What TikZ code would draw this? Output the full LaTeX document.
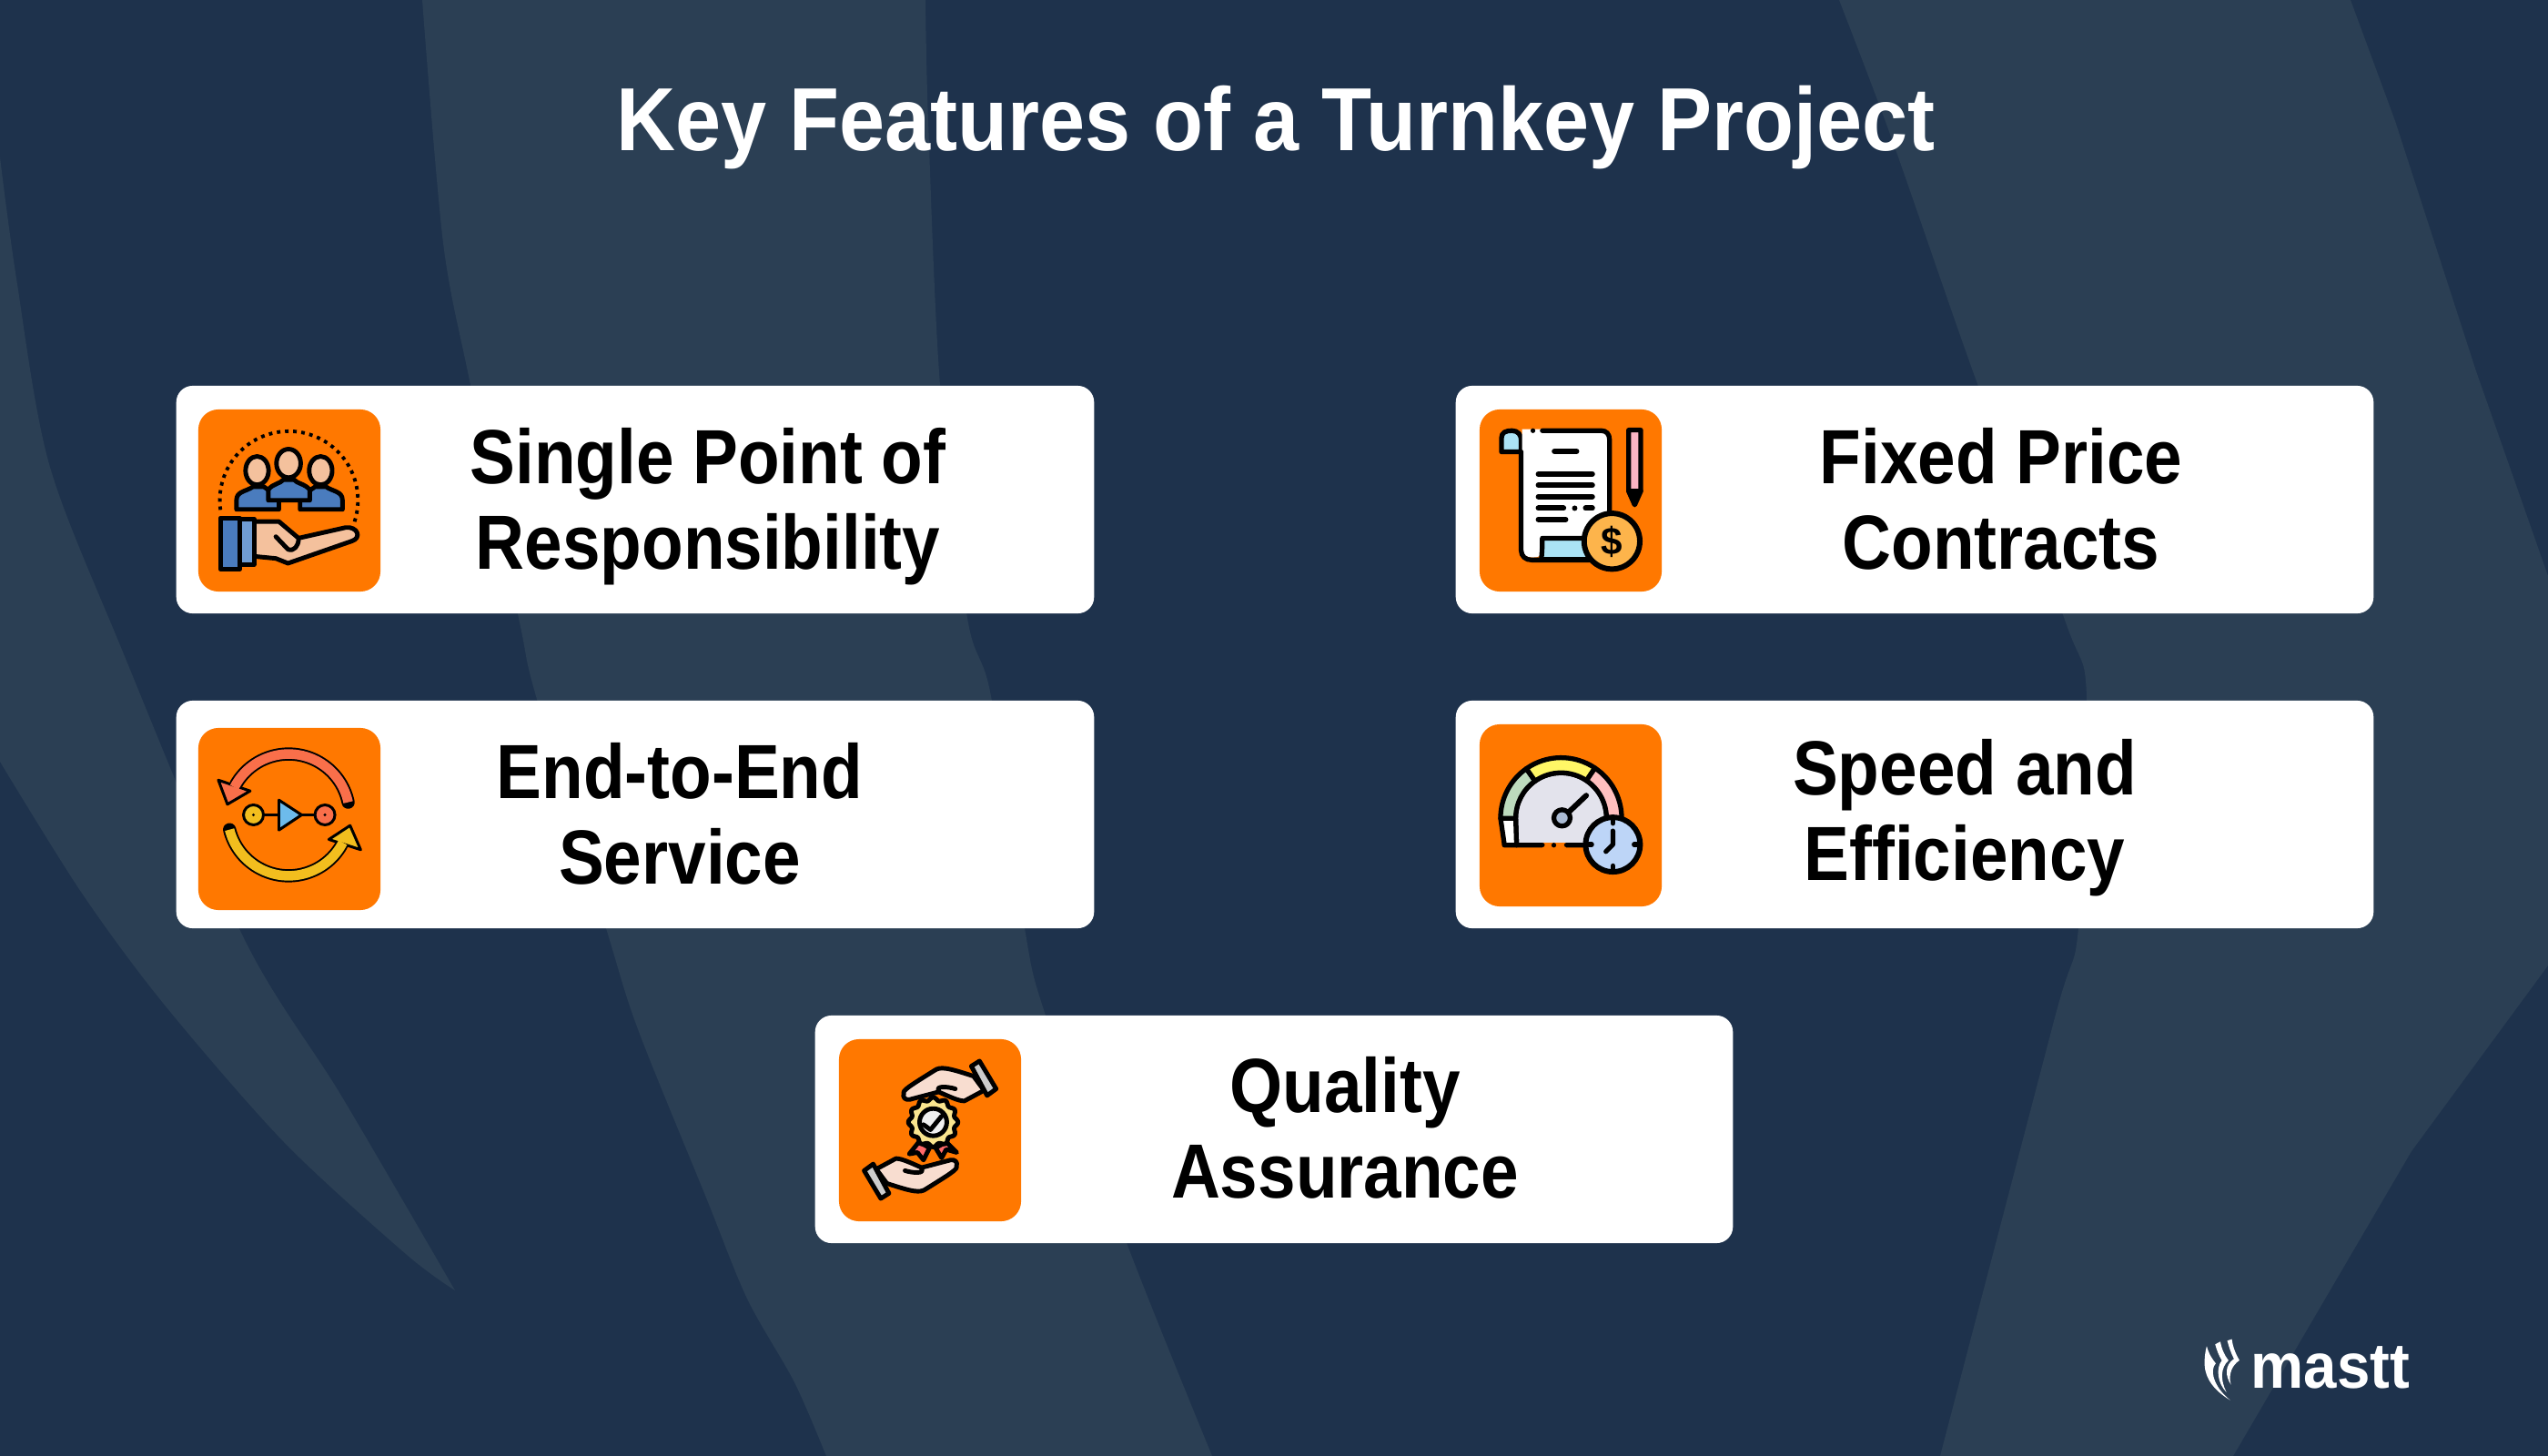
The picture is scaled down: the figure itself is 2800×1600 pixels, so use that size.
\documentclass[tikz,border=0pt]{standalone}
\usepackage{fontspec}
\setmainfont{Liberation Sans}
\newfontfamily\titlefont[FakeStretch=0.914]{Liberation Sans}
\newfontfamily\cardfont[FakeStretch=0.885]{Liberation Sans}
\newfontfamily\logofont[FakeStretch=0.93]{Liberation Sans}
\usepackage{tikz}
\definecolor{navy}{HTML}{1E324C}
\definecolor{band}{HTML}{2B3F54}
\definecolor{iconbg}{HTML}{FF7800}
\definecolor{skin}{HTML}{F4C19D}
\definecolor{shirt}{HTML}{4A7CBE}
\definecolor{shirtlight}{HTML}{6F9CD3}
\definecolor{sky}{HTML}{ABE3F5}
\definecolor{coin}{HTML}{FDB44B}
\definecolor{pinkish}{HTML}{FBB4C4}
\definecolor{coral}{HTML}{F96F4A}
\definecolor{amber}{HTML}{F2BE1E}
\definecolor{playblue}{HTML}{6DBBEC}
\definecolor{dial}{HTML}{E3E3EC}
\definecolor{clockface}{HTML}{BDD5F7}
\definecolor{handskin}{HTML}{F8DDD0}
\definecolor{rosette}{HTML}{F9E58F}
\tikzstyle{card} = [rectangle, rounded corners=0.18cm, minimum width=10.08cm, minimum height=2.5cm, fill=white, inner sep=0pt]
\tikzstyle{iconbox} = [rectangle, rounded corners=0.22cm, minimum size=2cm, fill=iconbg, inner sep=0pt]
\tikzstyle{cardtext} = [anchor=base, align=center, text=black, font=\cardfont\fontsize{24}{26.6}\selectfont\bfseries, inner sep=0pt]
\tikzstyle{zoomed} = [x=0.003333cm, y=-0.003333cm]
\tikzstyle{ln} = [draw=black, line width=1.4pt, line join=round, line cap=round]
\newcommand{\carehand}{%
  \draw[ln,fill=handskin] (280,215) .. controls (275,205) and (300,190) .. (380,140) .. controls (400,125) and (425,130) .. (510,158) -- (545,205) -- (480,240) .. controls (460,240) and (430,225) .. (395,210) -- (300,235) .. controls (285,238) and (275,228) .. (280,215) -- cycle;
  \draw[ln] (395,205) .. controls (385,190) and (425,192) .. (450,200);
  \draw[ln,fill=gray!40] (503,125) -- (530,108) -- (585,200) -- (555,222) -- cycle;
}
\begin{document}
\begin{tikzpicture}[x=0.01cm,y=-0.01cm]
\useasboundingbox (0,0) rectangle (2800,1600);
\fill[navy] (0,0) rectangle (2800,1600);

% background bands
\fill[band] plot[smooth] coordinates {(0,173) (18,306) (54,510) (134,714) (268,1031) (375,1204) (500,1418)} -- plot[smooth] coordinates {(500,1418) (446,1378) (312,1255) (179,1102) (89,980) (0,837)} -- cycle;
\fill[band] plot[smooth] coordinates {(464,0) (487,267) (517,423) (571,684) (589,765) (666,1020) (701,1131) (776,1316) (821,1427) (873,1519) (908,1600)} -- plot[smooth] coordinates {(1332,1600) (1240,1371) (1149,1116) (1126,1020) (1089,765) (1063,679) (1033,423) (1020,133) (1017,0)} -- cycle;
\fill[band] plot[smooth] coordinates {(2021,0) (2079,153) (2168,408) (2270,684) (2293,765) (2284,1020) (2257,1122) (2132,1600)} -- (2454,1600) -- (2650,1265) -- (2800,1061) -- (2800,633) -- (2721,408) -- (2632,133) -- (2583,0) -- cycle;

\node (title) [anchor=base, text=white, font=\titlefont\fontsize{28}{30}\selectfont\bfseries, inner sep=0pt] at (1402,166) {Key Features of a Turnkey Project};

\node (card1) [card] at (698,549) {};
\node (card2) [card] at (2104,549) {};
\node (card3) [card] at (698,895) {};
\node (card4) [card] at (2104,895) {};
\node (card5) [card] at (1400,1241) {};

\node (icon1) [iconbox] at (318,550) {};
\node (icon2) [iconbox] at (1726,550) {};
\node (icon3) [iconbox] at (318,900) {};
\node (icon4) [iconbox] at (1726,896) {};
\node (icon5) [iconbox] at (1022,1242) {};

\node (text1) [cardtext] at (778,625) {Single Point of\\Responsibility};
\node (text2) [cardtext] at (2199,625) {Fixed Price\\Contracts};
\node (text3) [cardtext] at (747,971) {End-to-End\\Service};
\node (text4) [cardtext] at (2159,967) {Speed and\\Efficiency};
\node (text5) [cardtext] at (1478,1316) {Quality\\Assurance};

% people on a hand
\begin{scope}[shift={(180,410)},zoomed]
\draw[draw=black,line width=1.1pt,dash pattern=on 1.1pt off 1.45pt] (413,420) ++(172:228) arc[start angle=172,end angle=378,radius=228];
\draw[ln,fill=shirt] (240,450) -- (240,420) .. controls (240,390) and (270,392) .. (295,375) -- (330,375) -- (380,410) -- (380,450) -- cycle;
\draw[ln,fill=shirt] (590,450) -- (590,420) .. controls (590,390) and (560,392) .. (535,375) -- (500,375) -- (450,410) -- (450,450) -- cycle;
\draw[ln,fill=skin] (308,322) ellipse [x radius=38,y radius=47];
\draw[ln,fill=skin] (518,322) ellipse [x radius=38,y radius=47];
\draw[ln,fill=shirt] (345,420) -- (345,385) .. controls (360,365) and (385,365) .. (395,352) -- (430,352) .. controls (440,365) and (465,365) .. (482,385) -- (482,420) -- cycle;
\draw[ln,fill=skin] (412,298) ellipse [x radius=40,y radius=47];
\draw[ln,fill=skin] (298,490) -- (380,490) -- (445,545) -- (600,510) .. controls (640,505) and (655,545) .. (620,555) -- (410,628) -- (370,612) -- (298,605) -- cycle;
\draw[ln] (370,540) -- (410,582) .. controls (430,590) and (445,570) .. (445,548);
\draw[ln,fill=shirtlight] (250,482) rectangle (298,632);
\draw[ln,fill=shirt] (187,478) rectangle (250,648);
\end{scope}

% contract and coin
\begin{scope}[shift={(1600,430)},zoomed]
\draw[ln,fill=sky,line width=1.5pt] (150,200) -- (150,155) .. controls (150,135) and (165,130) .. (185,130) .. controls (205,130) and (215,145) .. (215,160) -- (215,200) -- cycle;
\fill[white] (218,125) -- (480,125) .. controls (495,125) and (505,140) .. (505,160) -- (505,480) -- (285,480) -- (285,530) .. controls (285,555) and (225,555) .. (218,530) -- cycle;
\draw[ln,line width=1.5pt] (285,130) -- (480,130) .. controls (495,130) and (507,140) .. (507,160) -- (507,400);
\draw[ln,line width=1.5pt] (254,130) -- (254,130);
\draw[ln,line width=1.5pt] (215,200) -- (215,525) .. controls (215,545) and (230,557) .. (250,557) -- (440,557);
\draw[ln,fill=sky,line width=1.5pt] (282,555) .. controls (282,545) and (285,530) .. (285,485) -- (440,485) -- (440,555) -- cycle;
\fill[white] (225,200) -- (275,200) -- (275,525) .. controls (275,552) and (225,552) .. (225,525) -- cycle;
\draw[ln,line width=1.7pt] (325,198) -- (398,198);
\draw[ln,line width=1.7pt] (272,273) -- (450,273);
\draw[ln,line width=1.7pt] (272,310) -- (450,310);
\draw[ln,line width=1.7pt] (272,348) -- (450,348);
\draw[ln,line width=1.7pt] (272,386) -- (355,386);
\draw[ln,line width=1.7pt] (392,386) -- (392,386);
\draw[ln,line width=1.7pt] (428,386) -- (450,386);
\draw[ln,line width=1.7pt] (272,423) -- (362,423);
\draw[ln,fill=coin,line width=1.7pt] (515,495) circle (92);
\node (dollar) [inner sep=0pt, font=\fontsize{12}{12}\selectfont\bfseries, text=black] at (515,497) {\$};
\draw[ln,fill=pinkish,line width=1.5pt] (570,128) -- (610,128) -- (610,330) -- (590,375) -- (570,330) -- cycle;
\draw[ln,line width=1.5pt] (570,328) -- (610,328);
\fill[black] (578,335) -- (602,335) -- (590,375) -- cycle;
\end{scope}

% cycle arrows
\begin{scope}[shift={(200,780)},zoomed]
\draw[black,line width=4.1pt,line cap=round] (352,347) ++(-12:201) arc[start angle=-12,end angle=-150,radius=201];
\draw[ln,fill=coral,line width=0.85pt] (120,232) -- (225,268) -- (150,312) -- cycle;
\draw[coral,line width=3pt] (352,347) ++(-12:201) arc[start angle=-12,end angle=-153,radius=201];
\draw[black,line width=4.1pt,line cap=round] (352,347) ++(166:201) arc[start angle=166,end angle=30,radius=201];
\draw[ln,fill=amber,line width=0.85pt] (555,382) -- (590,462) -- (485,428) -- cycle;
\draw[amber,line width=3pt] (352,347) ++(166:201) arc[start angle=166,end angle=27,radius=201];
\draw[ln,line width=0.85pt] (270,347) -- (320,347);
\draw[ln,line width=0.85pt] (395,347) -- (438,347);
\draw[ln,fill=amber,line width=0.85pt] (236,347) circle (33);
\fill[black] (236,347) circle (5);
\draw[ln,fill=coral,line width=0.85pt] (472,347) circle (33);
\fill[black] (472,347) circle (5);
\draw[ln,fill=playblue,line width=0.85pt] (320,298) -- (395,347) -- (320,397) -- cycle;
\end{scope}

% gauge and clock
\begin{scope}[shift={(1600,780)},zoomed]
\draw[ln,fill=dial,line width=1.5pt] (200,447) -- (197,358) arc[start angle=180,end angle=360,radius=150] -- (497,447) -- cycle;
\draw[ln,fill=white,line width=1.5pt] (160,447) -- (147,358) -- (197,358) -- (200,447) -- cycle;
\draw[ln,fill=green!30!gray!40!white,line width=1.5pt] (147,358) arc[start angle=180,end angle=235,radius=200] -- ++(55:50) arc[start angle=235,end angle=180,radius=150] -- cycle;
\draw[ln,fill=yellow!60!white,line width=1.5pt] (347,358) ++(235:200) arc[start angle=235,end angle=304,radius=200] -- ++(124:50) arc[start angle=304,end angle=235,radius=150] -- cycle;
\draw[ln,fill=pink,line width=1.5pt] (347,358) ++(304:200) arc[start angle=304,end angle=360,radius=200] -- ++(180:50) arc[start angle=360,end angle=304,radius=150] -- cycle;
\fill[iconbg] (285,440) rectangle (365,470);
\draw[ln,line width=1.5pt] (160,447) -- (285,447);
\draw[ln,line width=1.5pt] (323,447) -- (323,447);
\draw[ln,line width=1.5pt] (365,447) -- (430,447);
\draw[ln,line width=1.7pt] (375,335) -- (430,283);
\draw[ln,fill=clockface!70!gray,line width=1.5pt] (350,357) circle (27);
\draw[ln,fill=clockface,line width=1.7pt] (518,445) circle (90);
\draw[ln,line width=1.5pt] (518,365) -- (518,375);
\draw[ln,line width=1.5pt] (518,515) -- (518,525);
\draw[ln,line width=1.5pt] (438,445) -- (448,445);
\draw[ln,line width=1.5pt] (588,445) -- (598,445);
\draw[ln,line width=1.5pt] (518,400) -- (518,445) -- (495,468);
\end{scope}

% hands and rosette
\begin{scope}[shift={(900,1130)},zoomed]
\carehand
\begin{scope}[rotate around={180:(367,335)}]
\carehand
\end{scope}
\draw[ln,fill=red!45!pink] (330,375) -- (298,415) -- (325,410) -- (345,435) -- (365,395) -- cycle;
\draw[ln,fill=red!45!pink] (420,375) -- (455,410) -- (420,400) -- (405,428) -- (385,395) -- cycle;
\draw[ln,fill=rosette,shift={(377,310)}] plot[domain=0:360,samples=121,smooth cycle] ({(77+5*cos(12*\x))*cos(\x)},{(77+5*cos(12*\x))*sin(\x)});
\draw[ln,fill=gray!12] (377,310) circle (45);
\draw[ln] (345,318) -- (368,335) -- (405,290);
\end{scope}

% logo
\begin{scope}[shift={(2380,1440)},zoomed]
\fill[white] (203,100) -- (218,95) .. controls (222,125) and (232,145) .. (243,165) .. controls (220,180) and (205,210) .. (215,245) .. controls (195,215) and (195,180) .. (225,160) .. controls (215,140) and (208,120) .. (203,100) -- cycle;
\fill[white] (163,112) -- (180,103) .. controls (185,130) and (195,150) .. (207,165) .. controls (180,190) and (180,230) .. (200,270) .. controls (170,240) and (165,190) .. (185,165) .. controls (175,150) and (168,130) .. (163,112) -- cycle;
\fill[white] (135,118) .. controls (140,135) and (145,150) .. (165,175) .. controls (145,195) and (155,250) .. (212,296) .. controls (160,265) and (130,225) .. (128,180) .. controls (127,160) and (130,135) .. (135,118) -- cycle;
\end{scope}
\node (logo) [anchor=base west, text=white, font=\logofont\fontsize{20}{20}\selectfont\bfseries, inner sep=0pt] at (2473,1525) {mastt};
\end{tikzpicture}
\end{document}
